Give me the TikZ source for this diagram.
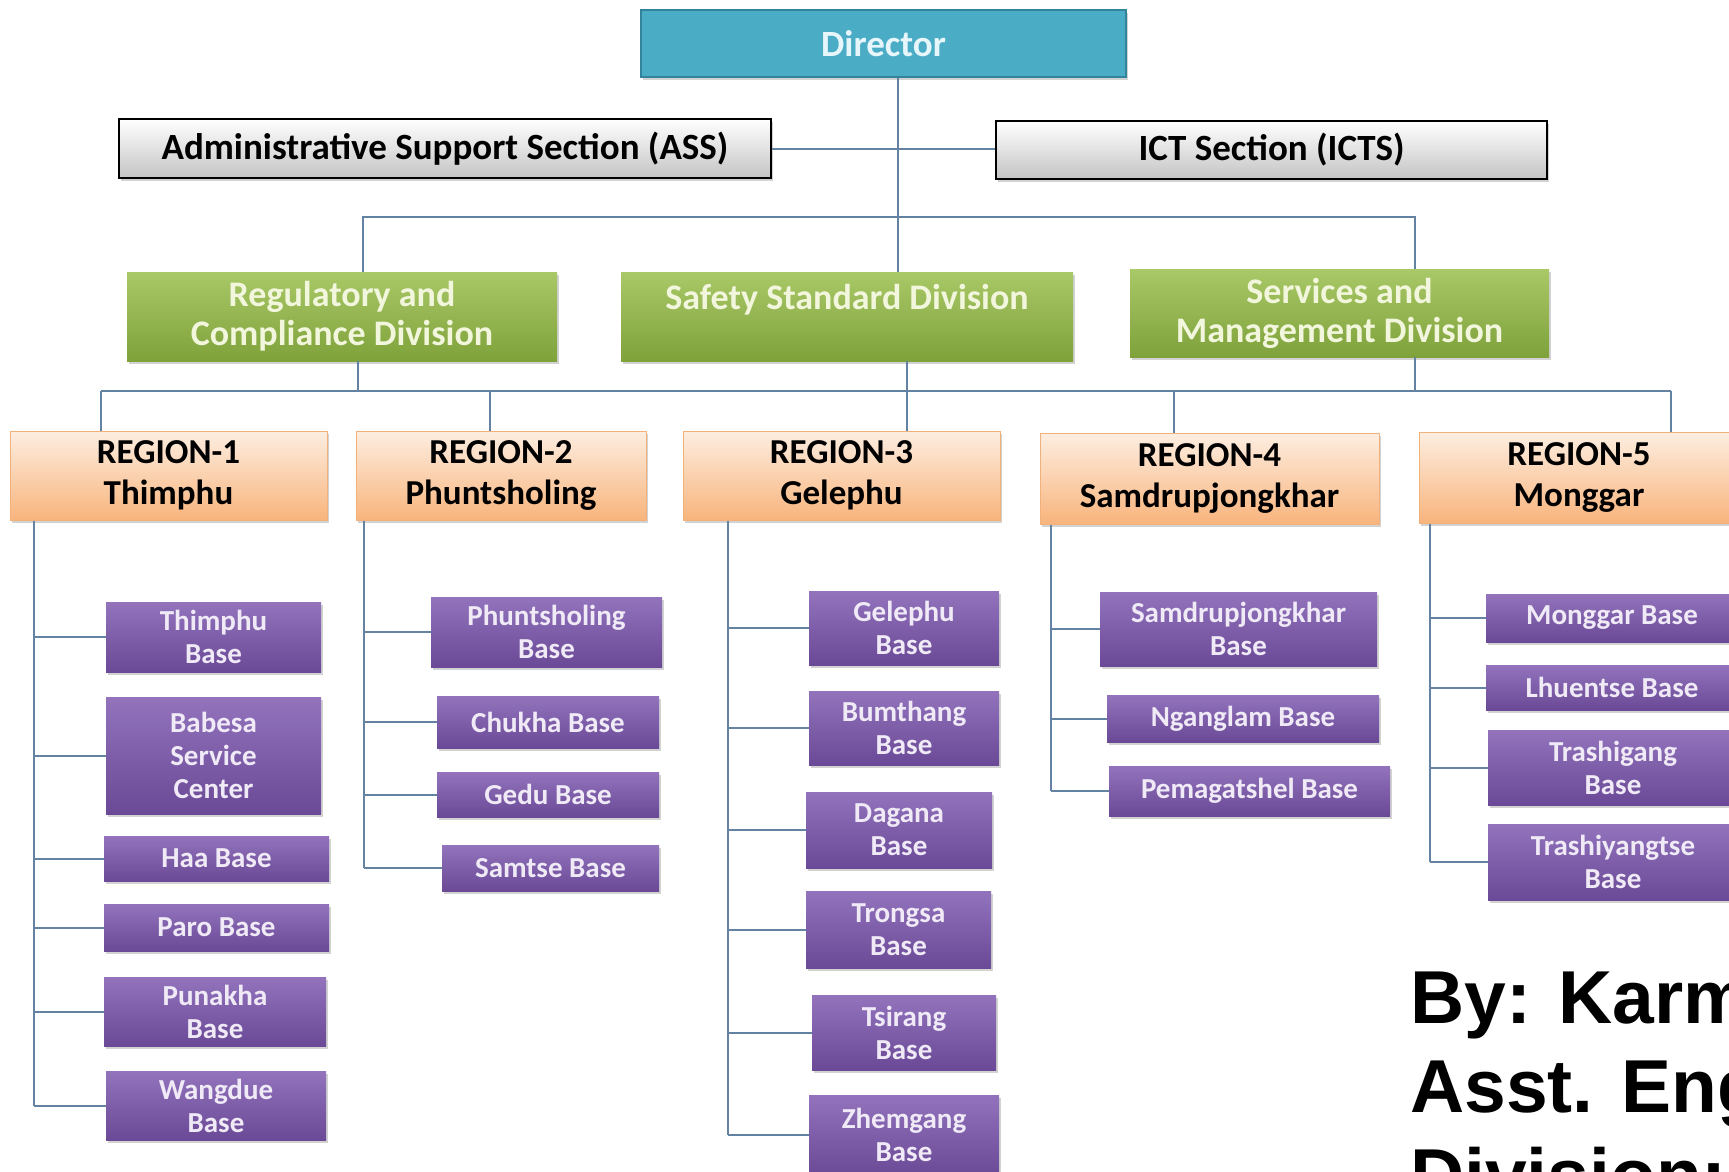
\documentclass[tikz,border=0pt]{standalone}
\usepackage{fontspec}
\setmainfont{Carlito}
\newfontfamily\authorfont{Liberation Sans}
\usetikzlibrary{shadows}

\definecolor{lineC}{HTML}{6483A3}
\definecolor{dirC}{HTML}{4BACC6}
\definecolor{dirEdge}{HTML}{31849B}
\definecolor{dirTxt}{HTML}{E6F6FB}
\definecolor{grayBot}{HTML}{C4C4C4}
\definecolor{greenTop}{HTML}{A9C867}
\definecolor{greenBot}{HTML}{7FA23B}
\definecolor{greenTxt}{HTML}{F1F6DC}
\definecolor{orTop}{HTML}{FDEEE1}
\definecolor{orBot}{HTML}{F8B47C}
\definecolor{orEdge}{HTML}{F2B07A}
\definecolor{puTop}{HTML}{9273BC}
\definecolor{puBot}{HTML}{6A4996}
\definecolor{puTxt}{HTML}{F0EAF7}

\tikzset{
    link/.style={draw=lineC, line width=2pt},
    boxshadow/.style={drop shadow={shadow xshift=2pt, shadow yshift=-3pt, opacity=0.35}},
    dirbox/.style={fill=dirC, draw=dirEdge, line width=1.5pt, inner sep=0pt, text=dirTxt,
        font=\bfseries\fontsize{37}{40}\selectfont, boxshadow},
    secbox/.style={top color=white, bottom color=grayBot, draw=black, line width=2pt,
        inner sep=0pt, font=\bfseries\fontsize{37}{40}\selectfont, boxshadow},
    divbox/.style={top color=greenTop, bottom color=greenBot, inner sep=0pt, align=center,
        text=greenTxt, font=\bfseries\fontsize{36}{39}\selectfont, boxshadow},
    regbox/.style={top color=orTop, bottom color=orBot, draw=orEdge, line width=1pt,
        inner sep=0pt, align=center, font=\bfseries\fontsize{35}{41}\selectfont, boxshadow},
    basebox/.style={top color=puTop, bottom color=puBot, inner sep=0pt, align=center,
        text=puTxt, font=\bfseries\fontsize{29}{33}\selectfont, boxshadow},
    authortext/.style={inner sep=0pt, align=left, font=\authorfont\bfseries\fontsize{75}{89}\selectfont}
}

\begin{document}
\begin{tikzpicture}[x=1pt, y=-1pt]

    \useasboundingbox (0,0) rectangle (1729,1171);
    \fill[white] (0,0) rectangle (1729,1171);
    \clip (0,0) rectangle (1729,1171);

    % Top
    \node[dirbox, minimum width=485, minimum height=67] (dir) at (883.5,43.5) {Director};
    \node[secbox, minimum width=652, minimum height=59] (ass) at (445,148.5) {Administrative Support Section (ASS)};
    \node[secbox, minimum width=551, minimum height=58] (ict) at (1271.5,150) {ICT Section (ICTS)};

    % Divisions
    \node[divbox, minimum width=430, minimum height=89] (rc) at (342,316.5) {Regulatory and\\Compliance Division};
    \node[divbox, minimum width=452, minimum height=89] (ssd) at (847,316.5) {Safety Standard Division\\\phantom{X}};
    \node[divbox, minimum width=419, minimum height=88] (sm) at (1339.5,313) {Services and\\Management Division};

    % Regions
    \node[regbox, minimum width=317, minimum height=89] (r1) at (168.5,475.5) {REGION-1\\Thimphu};
    \node[regbox, minimum width=290, minimum height=89] (r2) at (501,475.5) {REGION-2\\Phuntsholing};
    \node[regbox, minimum width=317, minimum height=89] (r3) at (841.5,475.5) {REGION-3\\Gelephu};
    \node[regbox, minimum width=339, minimum height=91] (r4) at (1209.5,478.5) {REGION-4\\Samdrupjongkhar};
    \node[regbox, minimum width=320, minimum height=91] (r5) at (1579,477.5) {REGION-5\\Monggar};

    % Bases
    \node[basebox, minimum width=215, minimum height=70] (b11) at (213.5,637) {Thimphu\\Base};
    \node[basebox, minimum width=215, minimum height=117] (b12) at (213.5,755.5) {Babesa\\Service\\Center};
    \node[basebox, minimum width=225, minimum height=45] (b13) at (216.5,858.5) {Haa Base};
    \node[basebox, minimum width=225, minimum height=47] (b14) at (216.5,927.5) {Paro Base};
    \node[basebox, minimum width=222, minimum height=69] (b15) at (215,1011.5) {Punakha\\Base};
    \node[basebox, minimum width=220, minimum height=69] (b16) at (216,1105.5) {Wangdue\\Base};

    \node[basebox, minimum width=231, minimum height=70] (b21) at (546.5,632) {Phuntsholing\\Base};
    \node[basebox, minimum width=222, minimum height=52] (b22) at (548,722) {Chukha Base};
    \node[basebox, minimum width=222, minimum height=45] (b23) at (548,794.5) {Gedu Base};
    \node[basebox, minimum width=217, minimum height=46] (b24) at (550.5,868) {Samtse Base};

    \node[basebox, minimum width=190, minimum height=74] (b31) at (904,628) {Gelephu\\Base};
    \node[basebox, minimum width=190, minimum height=74] (b32) at (904,728) {Bumthang\\Base};
    \node[basebox, minimum width=186, minimum height=76] (b33) at (899,830) {Dagana\\Base};
    \node[basebox, minimum width=185, minimum height=77] (b34) at (898.5,929.5) {Trongsa\\Base};
    \node[basebox, minimum width=184, minimum height=75] (b35) at (904,1032.5) {Tsirang\\Base};
    \node[basebox, minimum width=190, minimum height=80] (b36) at (904,1135) {Zhemgang\\Base};

    \node[basebox, minimum width=277, minimum height=74] (b41) at (1238.5,629) {Samdrupjongkhar\\Base};
    \node[basebox, minimum width=272, minimum height=47] (b42) at (1243,718.5) {Nganglam Base};
    \node[basebox, minimum width=281, minimum height=50] (b43) at (1249.5,791) {Pemagatshel Base};

    \node[basebox, minimum width=252, minimum height=48] (b51) at (1612,618) {Monggar Base};
    \node[basebox, minimum width=252, minimum height=45] (b52) at (1612,687.5) {Lhuentse Base};
    \node[basebox, minimum width=250, minimum height=75] (b53) at (1613,767.5) {Trashigang\\Base};
    \node[basebox, minimum width=250, minimum height=76] (b54) at (1613,862) {Trashiyangtse\\Base};

    % Connectors, top part
    \coordinate (trunk) at (898,0);
    \coordinate (barA) at (0,217);
    \coordinate (rcx) at (363,0);
    \coordinate (smx) at (1415,0);
    \draw[link] (dir.south -| trunk) -- (ssd.north -| trunk);
    \draw[link] (ass.east) -- (ass.east -| ict.west);
    \draw[link] (rc.north -| rcx) |- (smx |- barA) -- (sm.north -| smx);

    % Connectors, divisions to regions
    \foreach \g/\x in {rc/358, ssd/907, sm/1415} {
        \coordinate (up\g) at (\x,391);
        \draw[link] (up\g) -- (\g.south -| up\g);
    }
    \foreach \r/\x in {r1/101, r2/490, r3/907, r4/1174, r5/1671} {
        \coordinate (tap\r) at (\x,391);
        \draw[link] (tap\r) -- (\r.north -| tap\r);
    }
    \draw[link] (tapr1) -- (tapr5);

    % Connectors, regions to bases
    \foreach \r/\x/\last/\list in {r1/34/b16/{b11,b12,b13,b14,b15,b16},
            r2/364/b24/{b21,b22,b23,b24}, r3/728/b36/{b31,b32,b33,b34,b35,b36},
            r4/1051/b43/{b41,b42,b43}, r5/1430/b54/{b51,b52,b53,b54}} {
        \coordinate (stem\r) at (\x,0);
        \draw[link] (\r.south -| stem\r) -- (\last.west -| stem\r);
        \foreach \b in \list
            \draw[link] (\b.west -| stem\r) -- (\b.west);
    }

    % Author
    \node[authortext, anchor=north west] (by) at (1410,972) {By: Karm\\Asst. Eng\\Division:};
\end{tikzpicture}
\end{document}
